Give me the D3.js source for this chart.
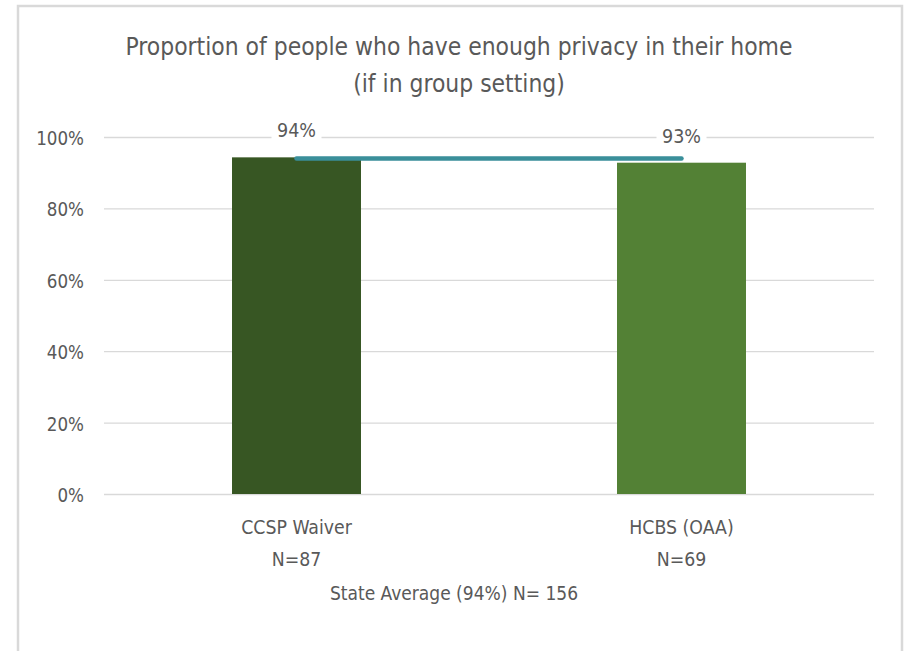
<!DOCTYPE html>
<html>
<head>
<meta charset="utf-8">
<script src="https://cdn.jsdelivr.net/npm/d3@7"></script>
<style>
  body { margin: 0; background: #fff; }
  text { font-family: "DejaVu Sans Condensed", sans-serif; fill: #595959; }
</style>
</head>
<body>
<div id="chart"></div>
<script>
// Data
const programs = ["CCSP Waiver", "HCBS (OAA)"];
const sampleSizes = ["N=87", "N=69"];
const privacyShare = [0.943, 0.928];
const stateAverage = [0.94, 0.94];
const yTicks = [0, 0.2, 0.4, 0.6, 0.8, 1.0];
const barColors = ["#375623", "#538135"];

const W = 905, H = 651;
var margin = { top: 137, right: 31, bottom: 157, left: 104 },
  width = W - margin.left - margin.right,
  height = H - margin.top - margin.bottom;

const root = d3.select("#chart")
  .append("svg")
  .attr("width", W)
  .attr("height", H);

// chart frame
root.append("rect")
  .attr("x", 18).attr("y", 6)
  .attr("width", 884).attr("height", 660)
  .attr("fill", "#fff")
  .attr("stroke", "#d9d9d9")
  .attr("stroke-width", 2.5);

// Title
const title = root.append("text")
  .attr("text-anchor", "middle")
  .attr("font-size", "24.4px");
title.append("tspan").attr("x", 459).attr("y", 55)
  .text("Proportion of people who have enough privacy in their home");
title.append("tspan").attr("x", 459).attr("y", 92)
  .text("(if in group setting)");

const svg = root.append("g")
  .attr("transform", `translate(${margin.left}, ${margin.top})`);

const y = d3.scaleLinear()
  .domain([0, 1])
  .range([height, 0]);

const x = d3.scaleBand()
  .domain(programs)
  .range([0, width])
  .paddingInner(0.665)
  .paddingOuter(0.3325);

// gridlines + tick labels
const yAxis = svg.append("g")
  .call(d3.axisLeft(y).tickValues(yTicks).tickFormat(d3.format(".0%"))
    .tickSize(-width).tickPadding(20));
yAxis.select(".domain").remove();
yAxis.selectAll(".tick line").attr("stroke", "#d9d9d9").attr("stroke-width", 1.3);
yAxis.selectAll(".tick text").attr("font-size", "18.6px").attr("font-family", null)
  .attr("fill", "#595959").attr("dy", "0.4em");

// Bars
svg.selectAll("rect.bar")
  .data(programs)
  .join("rect")
  .attr("class", "bar")
  .attr("x", d => x(d))
  .attr("y", (d, i) => y(privacyShare[i]))
  .attr("width", x.bandwidth())
  .attr("height", (d, i) => height - y(privacyShare[i]))
  .attr("fill", (d, i) => barColors[i]);

// State average line
const line = d3.line()
  .x((d, i) => x(programs[i]) + x.bandwidth() / 2)
  .y(d => y(d));
svg.append("path")
  .datum(stateAverage)
  .attr("d", line)
  .attr("fill", "none")
  .attr("stroke", "#3a8f9a")
  .attr("stroke-width", 4.5)
  .attr("stroke-linecap", "round");

// Data labels
const labels = svg.selectAll("g.lbl")
  .data(programs)
  .join("g")
  .attr("class", "lbl")
  .attr("transform", (d, i) => `translate(${x(d) + x.bandwidth() / 2}, ${y(privacyShare[i]) - 20})`);
labels.append("rect")
  .attr("x", -25).attr("y", -19).attr("width", 50).attr("height", 24)
  .attr("fill", "#fff");
labels.append("text")
  .attr("text-anchor", "middle")
  .attr("font-size", "19.5px")
  .text((d, i) => d3.format(".0%")(privacyShare[i]));

// Category labels
const cats = svg.selectAll("text.cat")
  .data(programs)
  .join("text")
  .attr("class", "cat")
  .attr("text-anchor", "middle")
  .attr("font-size", "19.3px");
cats.append("tspan")
  .attr("x", d => x(d) + x.bandwidth() / 2)
  .attr("y", height + 40)
  .text(d => d);
cats.append("tspan")
  .attr("x", d => x(d) + x.bandwidth() / 2)
  .attr("y", height + 72)
  .text((d, i) => sampleSizes[i]);

// Axis title
root.append("text")
  .attr("x", 454)
  .attr("y", 600)
  .attr("text-anchor", "middle")
  .attr("font-size", "19px")
  .text("State Average (94%) N= 156");
</script>
</body>
</html>
